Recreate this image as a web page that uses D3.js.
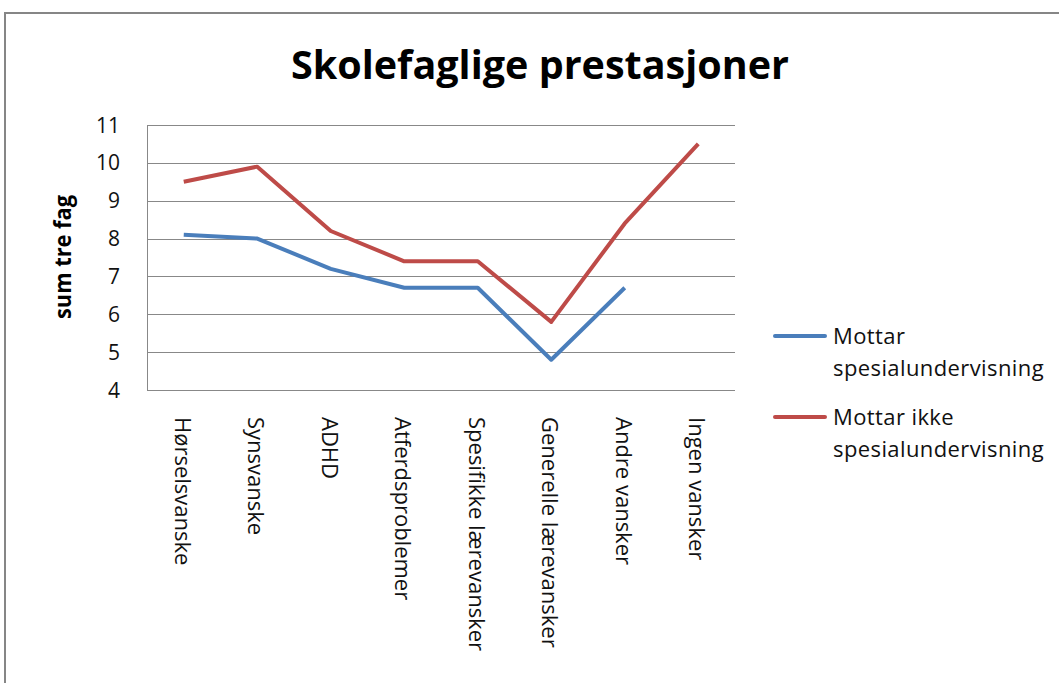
<!DOCTYPE html>
<html>
<head>
<meta charset="utf-8">
<script src="https://cdn.jsdelivr.net/npm/d3@7"></script>
<style>
  body { margin: 0; background: #fff; }
  svg { display: block; }
</style>
</head>
<body>
<div id="chart"></div>
<script>
"use strict";

// data
let categories = ["Hørselsvanske", "Synsvanske", "ADHD", "Atferdsproblemer",
    "Spesifikke lærevansker", "Generelle lærevansker", "Andre vansker", "Ingen vansker"];
let mottarSpes = [8.1, 8.0, 7.2, 6.7, 6.7, 4.8, 6.7, null];
let mottarIkkeSpes = [9.5, 9.9, 8.2, 7.4, 7.4, 5.8, 8.4, 10.5];
let yTicks = [4, 5, 6, 7, 8, 9, 10, 11];
let seriesNames = [["Mottar", "spesialundervisning"], ["Mottar ikke", "spesialundervisning"]];

let width = 1059, height = 683;
let plot = { left: 147, right: 735, top: 125, bottom: 390 };
let colors = ["#4a7ebb", "#be4b48"];
let labelFont = "'Open Sans', 'DejaVu Sans', sans-serif";

let svg = d3.select("#chart").append("svg")
    .attr("width", width)
    .attr("height", height);

// outer frame
svg.append("rect")
    .attr("x", 5).attr("y", 13)
    .attr("width", width + 10).attr("height", height + 10)
    .style("fill", "#fff")
    .style("stroke", "#868686")
    .style("stroke-width", 2);

svg.append("text")
    .attr("x", 540).attr("y", 79)
    .attr("text-anchor", "middle")
    .style("font-family", "'Liberation Sans Narrow', 'Open Sans', sans-serif")
    .style("font-weight", "bold")
    .style("font-size", "40px")
    .attr("textLength", 498)
    .attr("lengthAdjust", "spacingAndGlyphs")
    .text("Skolefaglige prestasjoner");

let x = d3.scaleBand()
    .domain(categories)
    .range([plot.left, plot.right]);

let y = d3.scaleLinear()
    .domain([4, 11])
    .range([plot.bottom, plot.top]);

// gridlines
svg.append("g")
    .selectAll("line")
    .data(yTicks)
    .enter().append("line")
    .attr("x1", plot.left).attr("x2", plot.right)
    .attr("y1", d => Math.round(y(d)) + 0.5)
    .attr("y2", d => Math.round(y(d)) + 0.5)
    .style("stroke", "#888")
    .style("stroke-width", 1);

svg.append("line")
    .attr("x1", plot.left + 0.5).attr("x2", plot.left + 0.5)
    .attr("y1", plot.top).attr("y2", plot.bottom)
    .style("stroke", "#888");

// y tick labels
svg.append("g")
    .selectAll("text")
    .data(yTicks)
    .enter().append("text")
    .attr("x", 120)
    .attr("y", d => y(d) + 7.5)
    .attr("text-anchor", "end")
    .style("font-family", labelFont)
    .style("font-size", "21px")
    .style("fill", "#111")
    .text(d => d);

svg.append("text")
    .attr("transform", "translate(71,257) rotate(-90)")
    .attr("text-anchor", "middle")
    .style("font-family", "'Open Sans', sans-serif")
    .style("font-weight", "bold")
    .style("font-size", "23px")
    .attr("textLength", 124)
    .attr("lengthAdjust", "spacingAndGlyphs")
    .text("sum tre fag");

// category labels, rotated to read top-down
svg.append("g")
    .selectAll("text")
    .data(categories)
    .enter().append("text")
    .attr("transform", d => "translate(" + (x(d) + x.bandwidth() / 2 - 9) + ",417) rotate(90)")
    .attr("text-anchor", "start")
    .style("font-family", labelFont)
    .style("font-size", "22px")
    .style("fill", "#111")
    .text(d => d);

let line = d3.line()
    .defined(d => d.v !== null)
    .x(d => x(d.c) + x.bandwidth() / 2)
    .y(d => y(d.v));

[mottarSpes, mottarIkkeSpes].forEach(function(values, i) {
    svg.append("path")
        .datum(categories.map((c, j) => ({ c: c, v: values[j] })))
        .attr("d", line)
        .style("fill", "none")
        .style("stroke", colors[i])
        .style("stroke-width", 4)
        .style("stroke-linejoin", "round");
});

// legend
let legend = svg.append("g");
let legendY = [336, 417];
seriesNames.forEach(function(name, i) {
    legend.append("line")
        .attr("x1", 775).attr("x2", 825)
        .attr("y1", legendY[i]).attr("y2", legendY[i])
        .style("stroke", colors[i])
        .style("stroke-width", 4)
        .style("stroke-linecap", "round");

    name.forEach(function(t, k) {
        legend.append("text")
            .attr("x", 833)
            .attr("y", legendY[i] + 8 + k * 32)
            .style("font-family", labelFont)
            .style("font-size", "22px")
            .style("letter-spacing", "0.4px")
            .style("fill", "#111")
            .text(t);
    });
});
</script>
</body>
</html>
